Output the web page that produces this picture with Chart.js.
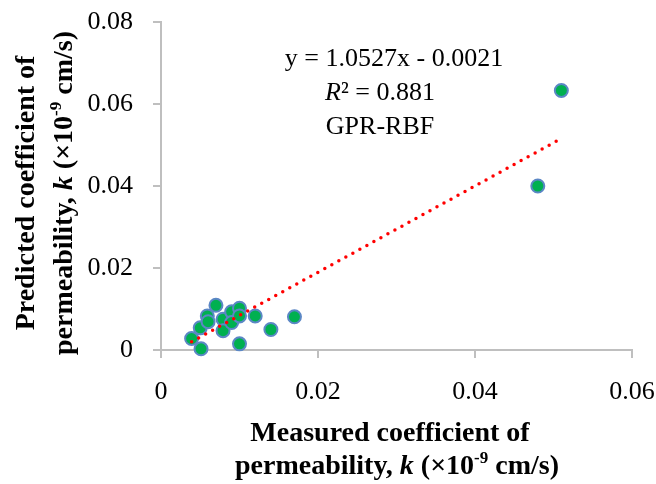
<!DOCTYPE html>
<html>
<head>
<meta charset="utf-8">
<script src="https://cdn.jsdelivr.net/npm/chart.js@4/dist/chart.umd.min.js"></script>
<style>
  html, body { margin: 0; padding: 0; background: #ffffff; }
  #chart { display: block; }
</style>
</head>
<body>
<canvas id="chart" width="656" height="484"></canvas>
<script>
// Measured vs. predicted coefficient of permeability (GPR-RBF model)
const measured  = [0.0039, 0.0051, 0.0050, 0.0059, 0.0060, 0.0070, 0.0079, 0.0079, 0.0090,
                   0.0090, 0.0100, 0.0100, 0.0100, 0.0120, 0.0140, 0.0170, 0.0480, 0.0510];
const predicted = [0.0028, 0.0003, 0.0054, 0.0083, 0.0069, 0.0109, 0.0075, 0.0047, 0.0093,
                   0.0067, 0.0102, 0.0083, 0.0015, 0.0083, 0.0050, 0.0081, 0.0400, 0.0633];

// Linear trendline as reported on the chart
const trendSlope = 1.0527;
const trendIntercept = -0.0021;
const rSquared = '0.881';
const modelName = 'GPR-RBF';

const xTickValues = [0, 0.02, 0.04, 0.06];
const xTickLabels = ['0', '0.02', '0.04', '0.06'];
const yTickValues = [0, 0.02, 0.04, 0.06, 0.08];
const yTickLabels = ['0', '0.02', '0.04', '0.06', '0.08'];

const SERIF = "'Liberation Serif', 'Times New Roman', serif";

const points = measured.map((x, i) => ({ x: x, y: predicted[i] }));
const xMin = Math.min(...measured);
const xMax = Math.max(...measured);
const trendPoints = [xMin, xMax].map(x => ({ x: x, y: trendSlope * x + trendIntercept }));

// Draws a line of text made of styled runs, centred on (cx, cy), optionally rotated
function drawRuns(ctx, runs, cx, cy, angle) {
  ctx.save();
  ctx.translate(cx, cy);
  if (angle) ctx.rotate(angle);
  ctx.textBaseline = 'middle';
  ctx.textAlign = 'left';
  let total = 0;
  runs.forEach(r => {
    ctx.font = r.font;
    r.w = ctx.measureText(r.text).width;
    total += r.w;
  });
  let x = -total / 2;
  runs.forEach(r => {
    ctx.font = r.font;
    ctx.fillStyle = '#000000';
    ctx.fillText(r.text, x, r.dy || 0);
    x += r.w;
  });
  ctx.restore();
}

const labelsPlugin = {
  id: 'labels',
  afterDraw(chart) {
    const ctx = chart.ctx;
    const B = 'bold 28px ' + SERIF;
    const BI = 'italic bold 28px ' + SERIF;
    const BS = 'bold 17px ' + SERIF;
    const N = '26px ' + SERIF;
    const NI = 'italic 26px ' + SERIF;

    const unitsLine = [
      { text: 'permeability, ', font: B },
      { text: 'k', font: BI },
      { text: ' (×10', font: B },
      { text: '-9', font: BS, dy: -8 },
      { text: ' cm/s)', font: B }
    ];

    // x-axis title
    drawRuns(ctx, [{ text: 'Measured coefficient of', font: B }], 390, 434);
    drawRuns(ctx, unitsLine, 397, 467);

    // y-axis title
    drawRuns(ctx, [{ text: 'Predicted coefficient of', font: B }], 27, 193, -Math.PI / 2);
    drawRuns(ctx, unitsLine, 65, 193, -Math.PI / 2);

    // trendline equation and model label
    const sign = trendIntercept < 0 ? ' - ' : ' + ';
    drawRuns(ctx, [{ text: 'y = ' + trendSlope.toFixed(4) + 'x' + sign + Math.abs(trendIntercept).toFixed(4), font: N }], 394, 59);
    drawRuns(ctx, [
      { text: 'R', font: NI },
      { text: '² = ' + rSquared, font: N }
    ], 380, 93);
    drawRuns(ctx, [{ text: modelName, font: N }], 380, 127);
  }
};

const axisGrid = { drawOnChartArea: false, drawTicks: true, tickLength: 8, color: '#bfbfbf', lineWidth: 2 };
const axisBorder = { display: true, color: '#bfbfbf', width: 2 };

new Chart(document.getElementById('chart'), {
  type: 'scatter',
  data: {
    datasets: [
      {
        type: 'line',
        label: 'Linear trend',
        data: trendPoints,
        borderColor: '#ff0000',
        borderWidth: 3.5,
        borderDash: [0, 8],
        borderCapStyle: 'round',
        pointRadius: 0,
        fill: false,
        clip: false,
        order: 0
      },
      {
        label: modelName,
        data: points,
        backgroundColor: '#00b050',
        borderColor: '#5b87c5',
        borderWidth: 2,
        pointRadius: 6.5,
        clip: false,
        order: 1
      }
    ]
  },
  options: {
    responsive: false,
    animation: false,
    devicePixelRatio: 1,
    layout: { padding: { top: 22, right: 24, left: 0, bottom: 0 } },
    plugins: { legend: { display: false }, tooltip: { enabled: false } },
    scales: {
      x: {
        type: 'linear',
        min: 0,
        max: 0.06,
        afterBuildTicks: s => { s.ticks = xTickValues.map(v => ({ value: v })); },
        afterFit: s => { s.height = 134; s.paddingLeft = 0; s.paddingRight = 0; },
        ticks: {
          callback: (v) => xTickLabels[xTickValues.indexOf(v)] ?? '',
          font: { family: SERIF, size: 26 },
          color: '#000000',
          padding: 19,
          maxRotation: 0,
          autoSkip: false
        },
        grid: axisGrid,
        border: axisBorder
      },
      y: {
        type: 'linear',
        min: 0,
        max: 0.08,
        afterBuildTicks: s => { s.ticks = yTickValues.map(v => ({ value: v })); },
        afterFit: s => { s.width = 161; s.paddingTop = 0; s.paddingBottom = 0; },
        ticks: {
          callback: (v) => yTickLabels[yTickValues.indexOf(v)] ?? '',
          font: { family: SERIF, size: 26 },
          color: '#000000',
          padding: 20,
          autoSkip: false
        },
        grid: axisGrid,
        border: axisBorder
      }
    }
  },
  plugins: [labelsPlugin]
});
</script>
</body>
</html>
